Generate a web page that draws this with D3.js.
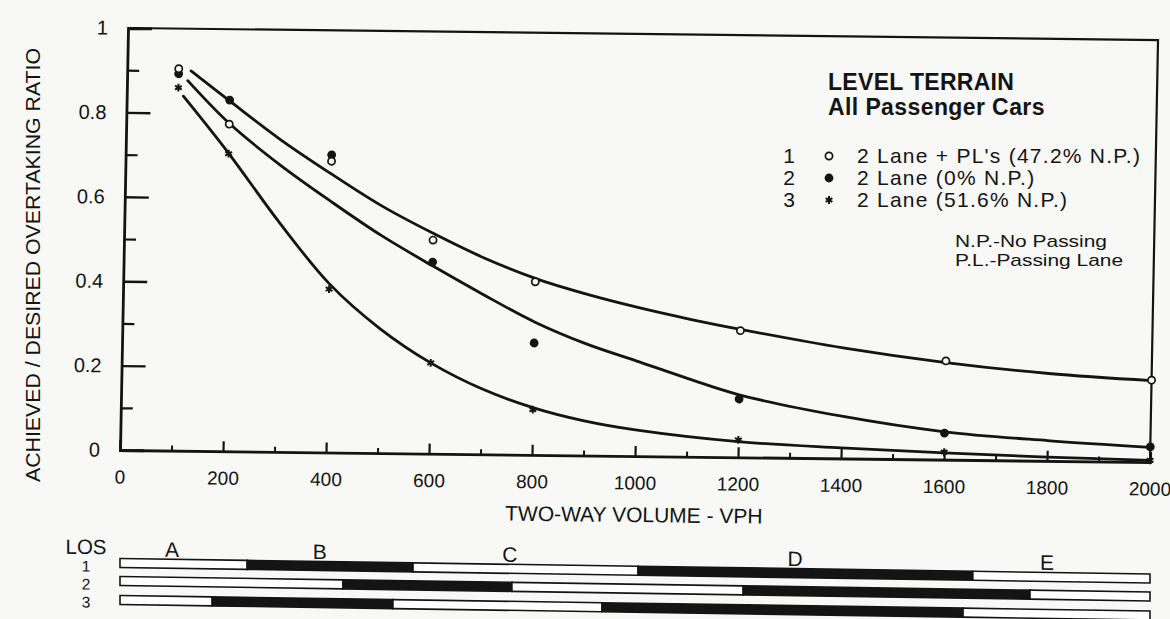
<!DOCTYPE html>
<html>
<head>
<meta charset="utf-8">
<script src="https://cdnjs.cloudflare.com/ajax/libs/d3/7.8.5/d3.min.js"></script>
<style>
  html, body { margin: 0; padding: 0; background: #f8f8f6; }
  svg { display: block; }
  text { font-family: "Liberation Sans", Arial, Helvetica, sans-serif; fill: #141414; }
</style>
</head>
<body>
<svg id="chart" width="1170" height="619"></svg>
<script>
// ---- Observed overtaking ratios at the simulated two-way volumes ----
const sampleVolumes = [100, 200, 400, 600, 800, 1200, 1600, 2000];
const ratioPassingLanes = [0.905, 0.775, 0.69, 0.506, 0.41, 0.30, 0.234, 0.194]; // 1: 2 Lane + PL's (47.2% N.P.)
const ratioOpen = [0.893, 0.832, 0.705, 0.454, 0.265, 0.138, 0.063, 0.036];      // 2: 2 Lane (0% N.P.)
const ratioNoPassing = [0.86, 0.705, 0.387, 0.215, 0.107, 0.041, 0.018, 0.004];  // 3: 2 Lane (51.6% N.P.)

// ---- Fitted curves ----
const fitVolumes1 = [124, 200, 300, 400, 500, 600, 700, 800, 900, 1000, 1100, 1200, 1400, 1600, 1800, 2000];
const fitRatio1 = [0.90, 0.83, 0.74, 0.66, 0.585, 0.522, 0.465, 0.418, 0.382, 0.352, 0.326, 0.303, 0.262, 0.23, 0.207, 0.193];
const fitVolumes2 = [118, 200, 300, 400, 500, 600, 700, 800, 900, 1000, 1100, 1200, 1400, 1600, 1800, 2000];
const fitRatio2 = [0.877, 0.777, 0.68, 0.595, 0.515, 0.445, 0.378, 0.315, 0.265, 0.225, 0.185, 0.148, 0.10, 0.066, 0.048, 0.035];
const fitVolumes3 = [110, 200, 300, 400, 500, 600, 700, 800, 900, 1000, 1200, 1400, 1600, 1800, 2000];
const fitRatio3 = [0.84, 0.706, 0.545, 0.40, 0.295, 0.215, 0.155, 0.112, 0.082, 0.062, 0.037, 0.025, 0.016, 0.009, 0.004];

// ---- Axis ticks ----
const xMajorTicks = [0, 200, 400, 600, 800, 1000, 1200, 1400, 1600, 1800, 2000];
const xTickLabels = ["0", "200", "400", "600", "800", "1000", "1200", "1400", "1600", "1800", "2000"];
const xMinorTicks = [100, 300, 500, 700, 900, 1100, 1300, 1500, 1700, 1900];
const yMajorTicks = [0, 0.2, 0.4, 0.6, 0.8, 1];
const yTickLabels = ["0", "0.2", "0.4", "0.6", "0.8", "1"];
const yMinorTicks = [0.1, 0.3, 0.5, 0.7, 0.9];

// ---- Level of service bands (volume where each band ends) ----
const losRowNames = ["1", "2", "3"];
const losBreaks1 = [0, 247, 569, 1006, 1656, 2000];
const losBreaks2 = [0, 433, 761, 1210, 1767, 2000];
const losBreaks3 = [0, 179, 530, 936, 1637, 2000];
const losLetters = ["A", "B", "C", "D", "E"];
const losLetterVolumes = [101, 388, 757, 1311, 1800];

// ---- Legend ----
const legendNumbers = ["1", "2", "3"];
const legendLabels = ["2 Lane + PL's (47.2% N.P.)", "2 Lane (0% N.P.)", "2 Lane (51.6% N.P.)"];
const legendMarks = ["open", "filled", "star"];

const ink = "#141414";
const paper = "#f8f8f6";

const svg = d3.select("#chart");

const x = d3.scaleLinear().domain([0, 2000]).range([0, 1030]);
const y = d3.scaleLinear().domain([0, 1]).range([0, -422]);

// plot area, slightly skewed like the printed page
const plot = svg.append("g")
  .attr("transform", "translate(120,450) matrix(1,0.0117,-0.019,1,0,0)");

// frame: top and right border
plot.append("path")
  .attr("d", `M${x(0)},${y(1)} L${x(2000)},${y(1)} L${x(2000)},${y(0)}`)
  .attr("fill", "none").attr("stroke", ink).attr("stroke-width", 2.2);

// y axis (ticks pointing inward)
const yAxisMajor = d3.axisLeft(y).tickValues(yMajorTicks)
  .tickFormat((d, i) => yTickLabels[i]).tickSize(-24).tickPadding(20);
const gy = plot.append("g").call(yAxisMajor);
gy.select(".domain").attr("stroke", ink).attr("stroke-width", 2.8);
gy.selectAll(".tick line").attr("stroke", ink).attr("stroke-width", 2.4);
gy.selectAll(".tick text").attr("font-size", 20).attr("fill", ink)
  .style("font-family", '"Liberation Sans", Arial, sans-serif');
gy.selectAll(".tick").filter(d => d === 1).select("line").remove();

const gyMinor = plot.append("g").call(d3.axisLeft(y).tickValues(yMinorTicks).tickFormat("").tickSize(-12));
gyMinor.select(".domain").remove();
gyMinor.selectAll(".tick line").attr("stroke", ink).attr("stroke-width", 2.2);

// x axis (ticks pointing inward)
const xAxisMajor = d3.axisBottom(x).tickValues(xMajorTicks)
  .tickFormat((d, i) => xTickLabels[i]).tickSize(-10).tickPadding(20);
const gx = plot.append("g").call(xAxisMajor);
gx.select(".domain").attr("stroke", ink).attr("stroke-width", 2.8);
gx.selectAll(".tick line").attr("stroke", ink).attr("stroke-width", 2.2);
gx.selectAll(".tick text").attr("font-size", 19).attr("fill", ink)
  .style("font-family", '"Liberation Sans", Arial, sans-serif');
gx.selectAll(".tick").filter(d => d === 0 || d === 2000).select("line").remove();

const gxMinor = plot.append("g").call(d3.axisBottom(x).tickValues(xMinorTicks).tickFormat("").tickSize(-5));
gxMinor.select(".domain").remove();
gxMinor.selectAll(".tick line").attr("stroke", ink).attr("stroke-width", 2);

// x axis title
plot.append("text")
  .attr("x", x(1000)).attr("y", 66)
  .attr("text-anchor", "middle").attr("font-size", 21)
  .text("TWO-WAY  VOLUME - VPH");

// fitted curves
const line = d3.line().x(d => x(d[0])).y(d => y(d[1])).curve(d3.curveCatmullRom.alpha(0.5));
const fits = [
  d3.zip(fitVolumes1, fitRatio1),
  d3.zip(fitVolumes2, fitRatio2),
  d3.zip(fitVolumes3, fitRatio3)
];
plot.selectAll("path.fit").data(fits).join("path")
  .attr("class", "fit")
  .attr("d", line)
  .attr("fill", "none").attr("stroke", ink).attr("stroke-width", 2.8)
  .attr("stroke-linecap", "round");

// observed points
const drawMark = (sel, kind) => {
  if (kind === "open") {
    sel.append("circle").attr("r", 3.6).attr("fill", paper).attr("stroke", ink).attr("stroke-width", 1.7);
  } else if (kind === "filled") {
    sel.append("circle").attr("r", 4.4).attr("fill", ink);
  } else {
    sel.append("path").attr("d", d3.symbol(d3.symbolAsterisk, 42)())
      .attr("fill", "none").attr("stroke", ink).attr("stroke-width", 2);
  }
};
const pointSets = [
  { kind: "star", values: ratioNoPassing },
  { kind: "filled", values: ratioOpen },
  { kind: "open", values: ratioPassingLanes }
];
pointSets.forEach(set => {
  plot.selectAll(null).data(d3.zip(sampleVolumes, set.values)).join("g")
    .attr("transform", d => `translate(${x(d[0])},${y(d[1])})`)
    .each(function () { drawMark(d3.select(this), set.kind); });
});

// y axis title
svg.append("text")
  .attr("transform", "translate(33,265) rotate(-90)")
  .attr("text-anchor", "middle").attr("dy", "0.35em")
  .attr("font-size", 21).attr("textLength", 434).attr("lengthAdjust", "spacingAndGlyphs")
  .text("ACHIEVED / DESIRED OVERTAKING RATIO");

// ---- legend ----
const legend = svg.append("g");
legend.append("text").attr("x", 828).attr("y", 90)
  .attr("font-size", 23).attr("font-weight", "bold").attr("letter-spacing", 0.3).text("LEVEL TERRAIN");
legend.append("text").attr("x", 828).attr("y", 115)
  .attr("font-size", 23).attr("font-weight", "bold").attr("letter-spacing", 0.4).text("All Passenger Cars");
legendLabels.forEach((label, i) => {
  const yy = 163 + i * 22;
  legend.append("text").attr("x", 789).attr("y", yy).attr("text-anchor", "middle")
    .attr("font-size", 21).text(legendNumbers[i]);
  const m = legend.append("g").attr("transform", `translate(829,${yy - 7})`);
  drawMark(m, legendMarks[i]);
  legend.append("text").attr("x", 857).attr("y", yy)
    .attr("font-size", 21).attr("letter-spacing", 1.25).text(label);
});
legend.append("text").attr("x", 955).attr("y", 247).attr("font-size", 17)
  .attr("textLength", 152).attr("lengthAdjust", "spacingAndGlyphs").text("N.P.-No Passing");
legend.append("text").attr("x", 955).attr("y", 266).attr("font-size", 17)
  .attr("textLength", 168).attr("lengthAdjust", "spacingAndGlyphs").text("P.L.-Passing Lane");

// ---- level of service bars ----
const los = svg.append("g").attr("transform", "translate(120,0) matrix(1,0.015,0,1,0,0)");
los.append("text").attr("x", -34).attr("y", 554.5).attr("text-anchor", "middle")
  .attr("font-size", 20.5).text("LOS");
los.selectAll("text.grade").data(losLetters).join("text")
  .attr("class", "grade")
  .attr("x", (d, i) => x(losLetterVolumes[i])).attr("y", 556)
  .attr("text-anchor", "middle").attr("font-size", 21).text(d => d);

const losRows = [losBreaks1, losBreaks2, losBreaks3];
const rowTops = [558.5, 576.5, 595.5];
const rowBaselines = [572, 590, 608];
losRows.forEach((breaks, r) => {
  los.append("text").attr("x", -34).attr("y", rowBaselines[r]).attr("text-anchor", "middle")
    .attr("font-size", 15.5).text(losRowNames[r]);
  const segs = d3.pairs(breaks).map((p, i) => ({ a: p[0], b: p[1], dark: i % 2 === 1 }));
  los.selectAll(null).data(segs).join("rect")
    .attr("x", d => x(d.a)).attr("width", d => x(d.b) - x(d.a))
    .attr("y", rowTops[r]).attr("height", 9)
    .attr("fill", d => d.dark ? ink : "#ffffff")
    .attr("stroke", ink).attr("stroke-width", 1.6);
});
</script>
</body>
</html>
